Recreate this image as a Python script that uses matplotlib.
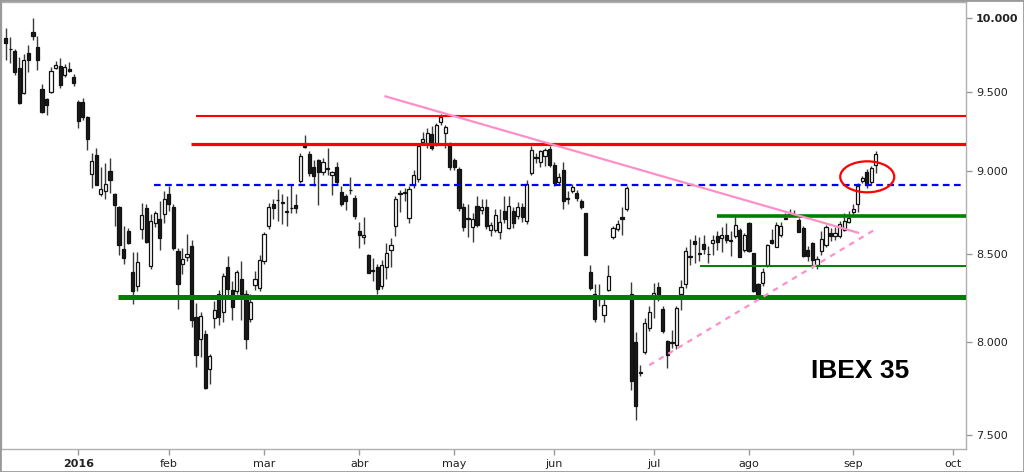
import matplotlib
matplotlib.use("Agg")
import matplotlib.pyplot as plt
import numpy as np
from matplotlib.patches import Ellipse, Rectangle
from matplotlib.ticker import FixedLocator, NullLocator

# daily candles, bar index 0 = early dec 2015, bar 16 = 4 jan 2016
opens = [9863, 9788, 9773, 9658, 9494, 9763, 9905, 9798, 9520, 9454,
         9500, 9662, 9676, 9611, 9655, 9602, 9435, 9435, 9341, 8978,
         9099, 8854, 8874, 9000, 8858, 8780, 8528, 8634, 8394, 8313,
         8644, 8770, 8427, 8680, 8704, 8734, 8854, 8775, 8514, 8437,
         8481, 8542, 8135, 8014, 8043, 7848, 8129, 8267, 8167, 8423,
         8288, 8282, 8350, 8264, 8123, 8319, 8302, 8456, 8664, 8794,
         8821, 8805, 8750, 8770, 8788, 8934, 9157, 9101, 9025, 9066,
         8994, 9012, 8974, 9022, 8868, 8844, 8880, 8832, 8632, 8598,
         8494, 8405, 8423, 8311, 8423, 8519, 8664, 8858, 8864, 8714,
         8914, 8950, 9177, 9173, 9231, 9173, 9304, 9237, 9158, 9066,
         9010, 8775, 8710, 8660, 8784, 8760, 8780, 8640, 8640, 8628,
         8752, 8654, 8752, 8724, 8780, 8694, 8988, 9085, 9051, 9090,
         9136, 9036, 8928, 9004, 8830, 8874, 8864, 8814, 8740, 8392,
         8264, 8240, 8148, 8288, 8598, 8644, 8720, 8768, 8267, 7998,
         7830, 7942, 8077, 8258, 8308, 8181, 8004, 7990, 7982, 8267,
         8321, 8479, 8572, 8500, 8556, 8500, 8560, 8602, 8590, 8608,
         8578, 8602, 8638, 8524, 8680, 8504, 8321, 8327, 8431, 8578,
         8540, 8610, 8708, 8734, 8734, 8700, 8654, 8523, 8560, 8431,
         8514, 8548, 8620, 8604, 8604, 8640, 8688, 8748, 8794, 8934,
         8994, 8928, 9034]
highs = [9929, 9871, 9789, 9733, 9751, 9811, 9996, 9878, 9556, 9460,
         9667, 9707, 9727, 9684, 9698, 9618, 9447, 9460, 9345, 9110,
         9140, 9025, 9046, 9078, 8862, 8785, 8664, 8650, 8508, 8508,
         8800, 8794, 8734, 8752, 8814, 8874, 8904, 8794, 8534, 8534,
         8616, 8581, 8216, 8165, 8062, 7930, 8229, 8292, 8385, 8488,
         8340, 8404, 8456, 8292, 8264, 8396, 8494, 8628, 8804, 8824,
         8884, 8854, 8844, 8914, 8854, 9112, 9226, 9125, 9066, 9072,
         9078, 9141, 9000, 9055, 8904, 8854, 8960, 8848, 8686, 8720,
         8500, 8475, 8437, 8465, 8562, 8592, 8842, 8880, 8894, 8908,
         9004, 9175, 9243, 9271, 9279, 9302, 9359, 9289, 9182, 9078,
         9022, 8800, 8794, 8740, 8844, 8824, 8824, 8688, 8764, 8764,
         8844, 8842, 8776, 8806, 8800, 8944, 9152, 9110, 9131, 9144,
         9157, 9055, 8988, 9055, 8874, 8920, 8880, 8828, 8742, 8431,
         8321, 8321, 8238, 8431, 8664, 8700, 8780, 8908, 8334, 8052,
         7870, 8129, 8196, 8331, 8334, 8196, 8009, 8066, 8196, 8346,
         8536, 8586, 8608, 8596, 8608, 8546, 8608, 8634, 8656, 8680,
         8634, 8724, 8650, 8624, 8686, 8506, 8332, 8417, 8554, 8644,
         8686, 8688, 8744, 8764, 8758, 8714, 8666, 8546, 8566, 8484,
         8634, 8672, 8654, 8656, 8692, 8740, 8752, 8794, 8924, 8964,
         9008, 9028, 9121]
lows = [9711, 9691, 9611, 9420, 9490, 9633, 9849, 9644, 9368, 9352,
        9498, 9655, 9529, 9600, 9633, 9538, 9268, 9320, 9131, 8894,
        8910, 8844, 8824, 8860, 8664, 8494, 8437, 8554, 8212, 8284,
        8584, 8560, 8408, 8656, 8524, 8684, 8752, 8524, 8183, 8379,
        8454, 8081, 7862, 7915, 7745, 7771, 8077, 8090, 8109, 8254,
        8119, 8264, 8119, 7960, 8106, 8292, 8281, 8437, 8644, 8704,
        8694, 8674, 8664, 8744, 8740, 8924, 9144, 8964, 8904, 8788,
        8974, 8974, 8848, 8920, 8782, 8758, 8854, 8708, 8534, 8554,
        8385, 8340, 8264, 8298, 8350, 8423, 8604, 8748, 8814, 8680,
        8896, 8932, 9162, 9144, 9131, 9156, 9289, 9144, 9004, 9004,
        8752, 8632, 8596, 8566, 8656, 8734, 8644, 8604, 8628, 8588,
        8680, 8644, 8654, 8704, 8690, 8674, 8974, 9048, 9025, 9030,
        9022, 8908, 8910, 8764, 8794, 8862, 8814, 8764, 8490, 8288,
        8106, 8200, 8106, 8282, 8584, 8632, 8608, 8752, 7739, 7580,
        7815, 7930, 8060, 8131, 8225, 8046, 7854, 7966, 7960, 8175,
        8300, 8436, 8448, 8458, 8500, 8448, 8494, 8524, 8512, 8560,
        8484, 8590, 8480, 8512, 8508, 8276, 8254, 8315, 8420, 8558,
        8536, 8600, 8704, 8722, 8722, 8626, 8482, 8454, 8418, 8408,
        8494, 8536, 8574, 8580, 8594, 8632, 8680, 8728, 8748, 8924,
        8894, 8918, 8984]
closes = [9831, 9785, 9633, 9428, 9711, 9711, 9873, 9716, 9370, 9416,
          9643, 9682, 9549, 9669, 9640, 9560, 9316, 9340, 9199, 9061,
          8914, 8890, 8920, 8940, 8790, 8548, 8475, 8564, 8281, 8452,
          8728, 8568, 8694, 8744, 8594, 8824, 8794, 8534, 8321, 8469,
          8500, 8119, 7924, 8142, 7748, 7919, 8177, 8135, 8369, 8296,
          8192, 8392, 8264, 8014, 8221, 8354, 8465, 8614, 8775, 8770,
          8818, 8802, 8752, 8772, 8770, 9094, 9148, 8988, 8964, 8994,
          9055, 9016, 8994, 8928, 8794, 8814, 8878, 8724, 8608, 8608,
          8389, 8401, 8296, 8435, 8504, 8548, 8828, 8860, 8866, 8888,
          8974, 9152, 9199, 9237, 9142, 9289, 9338, 9275, 9025, 9025,
          8772, 8656, 8706, 8708, 8668, 8780, 8664, 8670, 8728, 8688,
          8704, 8784, 8680, 8780, 8720, 8920, 9131, 9082, 9120, 9127,
          9036, 8924, 8960, 8814, 8826, 8900, 8834, 8775, 8494, 8302,
          8123, 8236, 8206, 8369, 8654, 8674, 8708, 8894, 7783, 7650,
          7836, 8104, 8164, 8274, 8254, 8058, 7924, 7998, 8187, 8308,
          8514, 8484, 8556, 8503, 8527, 8497, 8580, 8566, 8608, 8578,
          8572, 8668, 8483, 8608, 8514, 8282, 8264, 8392, 8548, 8564,
          8672, 8664, 8714, 8732, 8737, 8628, 8488, 8484, 8461, 8469,
          8588, 8660, 8604, 8620, 8674, 8694, 8714, 8768, 8908, 8954,
          8914, 9014, 9101]

month_pos = [16, 36, 57, 78, 99, 121, 143, 164, 187, 209]
month_labels = ["2016", "feb", "mar", "abr", "may", "jun", "jul", "ago", "sep", "oct"]
y_ticks = [7500, 8000, 8500, 9000, 9500, 10000]
y_labels = ["7.500", "8.000", "8.500", "9.000", "9.500", "10.000"]

# support / resistance levels
red_levels = [9346, 9166]
red_starts = [42, 40.9]
blue_level = 8914
green_levels = [8726, 8425, 8250]
green_starts = [157.0, 153.1, 24.8]

# trend lines (bar, value)
down_trend = ([83.8, 188.1], [9473, 8623])
up_trend = ([142.0, 192.1], [7871, 8647])

x_min, x_max = -1.04, 211.9
y_min, y_max = 7429, 10108

fig = plt.figure(figsize=(10.24, 4.72), dpi=100)
ax = fig.add_axes([0.001, 0.0487, 0.9424, 0.9466])

idx = np.arange(len(closes))
o = np.array(opens, float)
c = np.array(closes, float)
h = np.array(highs, float)
l = np.array(lows, float)

ax.vlines(idx, l, h, color="#3a3a3a", lw=1, zorder=1)
up = c >= o
bottom = np.minimum(o, c)
height = np.maximum(np.abs(c - o), 0.5)
ax.bar(idx[up], height[up], bottom=bottom[up], width=0.7,
       color="white", edgecolor="#111111", linewidth=0.9, zorder=2)
ax.bar(idx[~up], height[~up], bottom=bottom[~up], width=0.7,
       color="#1a1a1a", edgecolor="#111111", linewidth=0.9, zorder=2)

# horizontal levels
ax.hlines(red_levels[0], red_starts[0], x_max, color="#ff0000", lw=1.5, zorder=3)
ax.hlines(red_levels[1], red_starts[1], x_max, color="#ff0000", lw=2.3, zorder=3)
ax.plot([32.7, 211.0], [blue_level, blue_level], color="#0000ff", lw=1.6,
        dashes=(3, 2), zorder=3)
ax.hlines(green_levels[0], green_starts[0], x_max, color="#008000", lw=2.6, zorder=3)
ax.hlines(green_levels[1], green_starts[1], x_max, color="#008000", lw=1.4, zorder=3)
ax.hlines(green_levels[2], green_starts[2], x_max, color="#008000", lw=3.6, zorder=3)

ax.plot(*down_trend, color="#ff8fc8", lw=1.6, zorder=3)
ax.plot(*up_trend, color="#ff8fc8", lw=1.6, dashes=(2.5, 2.5), zorder=3)

ax.set_xlim(x_min, x_max)
ax.set_yscale("log")
ax.set_ylim(y_min, y_max)

# red circle around the breakout
cx, cy = ax.transAxes.inverted().transform(ax.transData.transform((190.1, 8962)))
ax.add_patch(Ellipse((cx, cy), 54 / 965, 31 / 447, transform=ax.transAxes,
                     fill=False, edgecolor="#ff0000", lw=1.6, zorder=4))

ax.text(188.6, 7839, "IBEX 35", ha="center", va="center", fontsize=19,
        fontweight="bold", family="Liberation Sans", color="black")

ax.yaxis.set_major_locator(FixedLocator(y_ticks))
ax.yaxis.set_minor_locator(NullLocator())
ax.set_yticklabels(y_labels)
ax.yaxis.tick_right()
ax.set_xticks(month_pos)
ax.set_xticklabels(month_labels)
ax.tick_params(axis="both", colors="#999999", labelcolor="#222222",
               labelsize=8, length=4, width=1)
ax.tick_params(axis="x", pad=3)
ax.tick_params(axis="y", pad=3)
ax.get_yticklabels()[-1].set_fontweight("bold")
ax.get_xticklabels()[0].set_fontweight("bold")

for s in ax.spines.values():
    s.set_color("#b0b0b0")
    s.set_linewidth(1)

fig.add_artist(Rectangle((0, 0), 1, 1, transform=fig.transFigure, fill=False,
                         edgecolor="#999999", lw=2))

fig.savefig("out.png", dpi=100)
